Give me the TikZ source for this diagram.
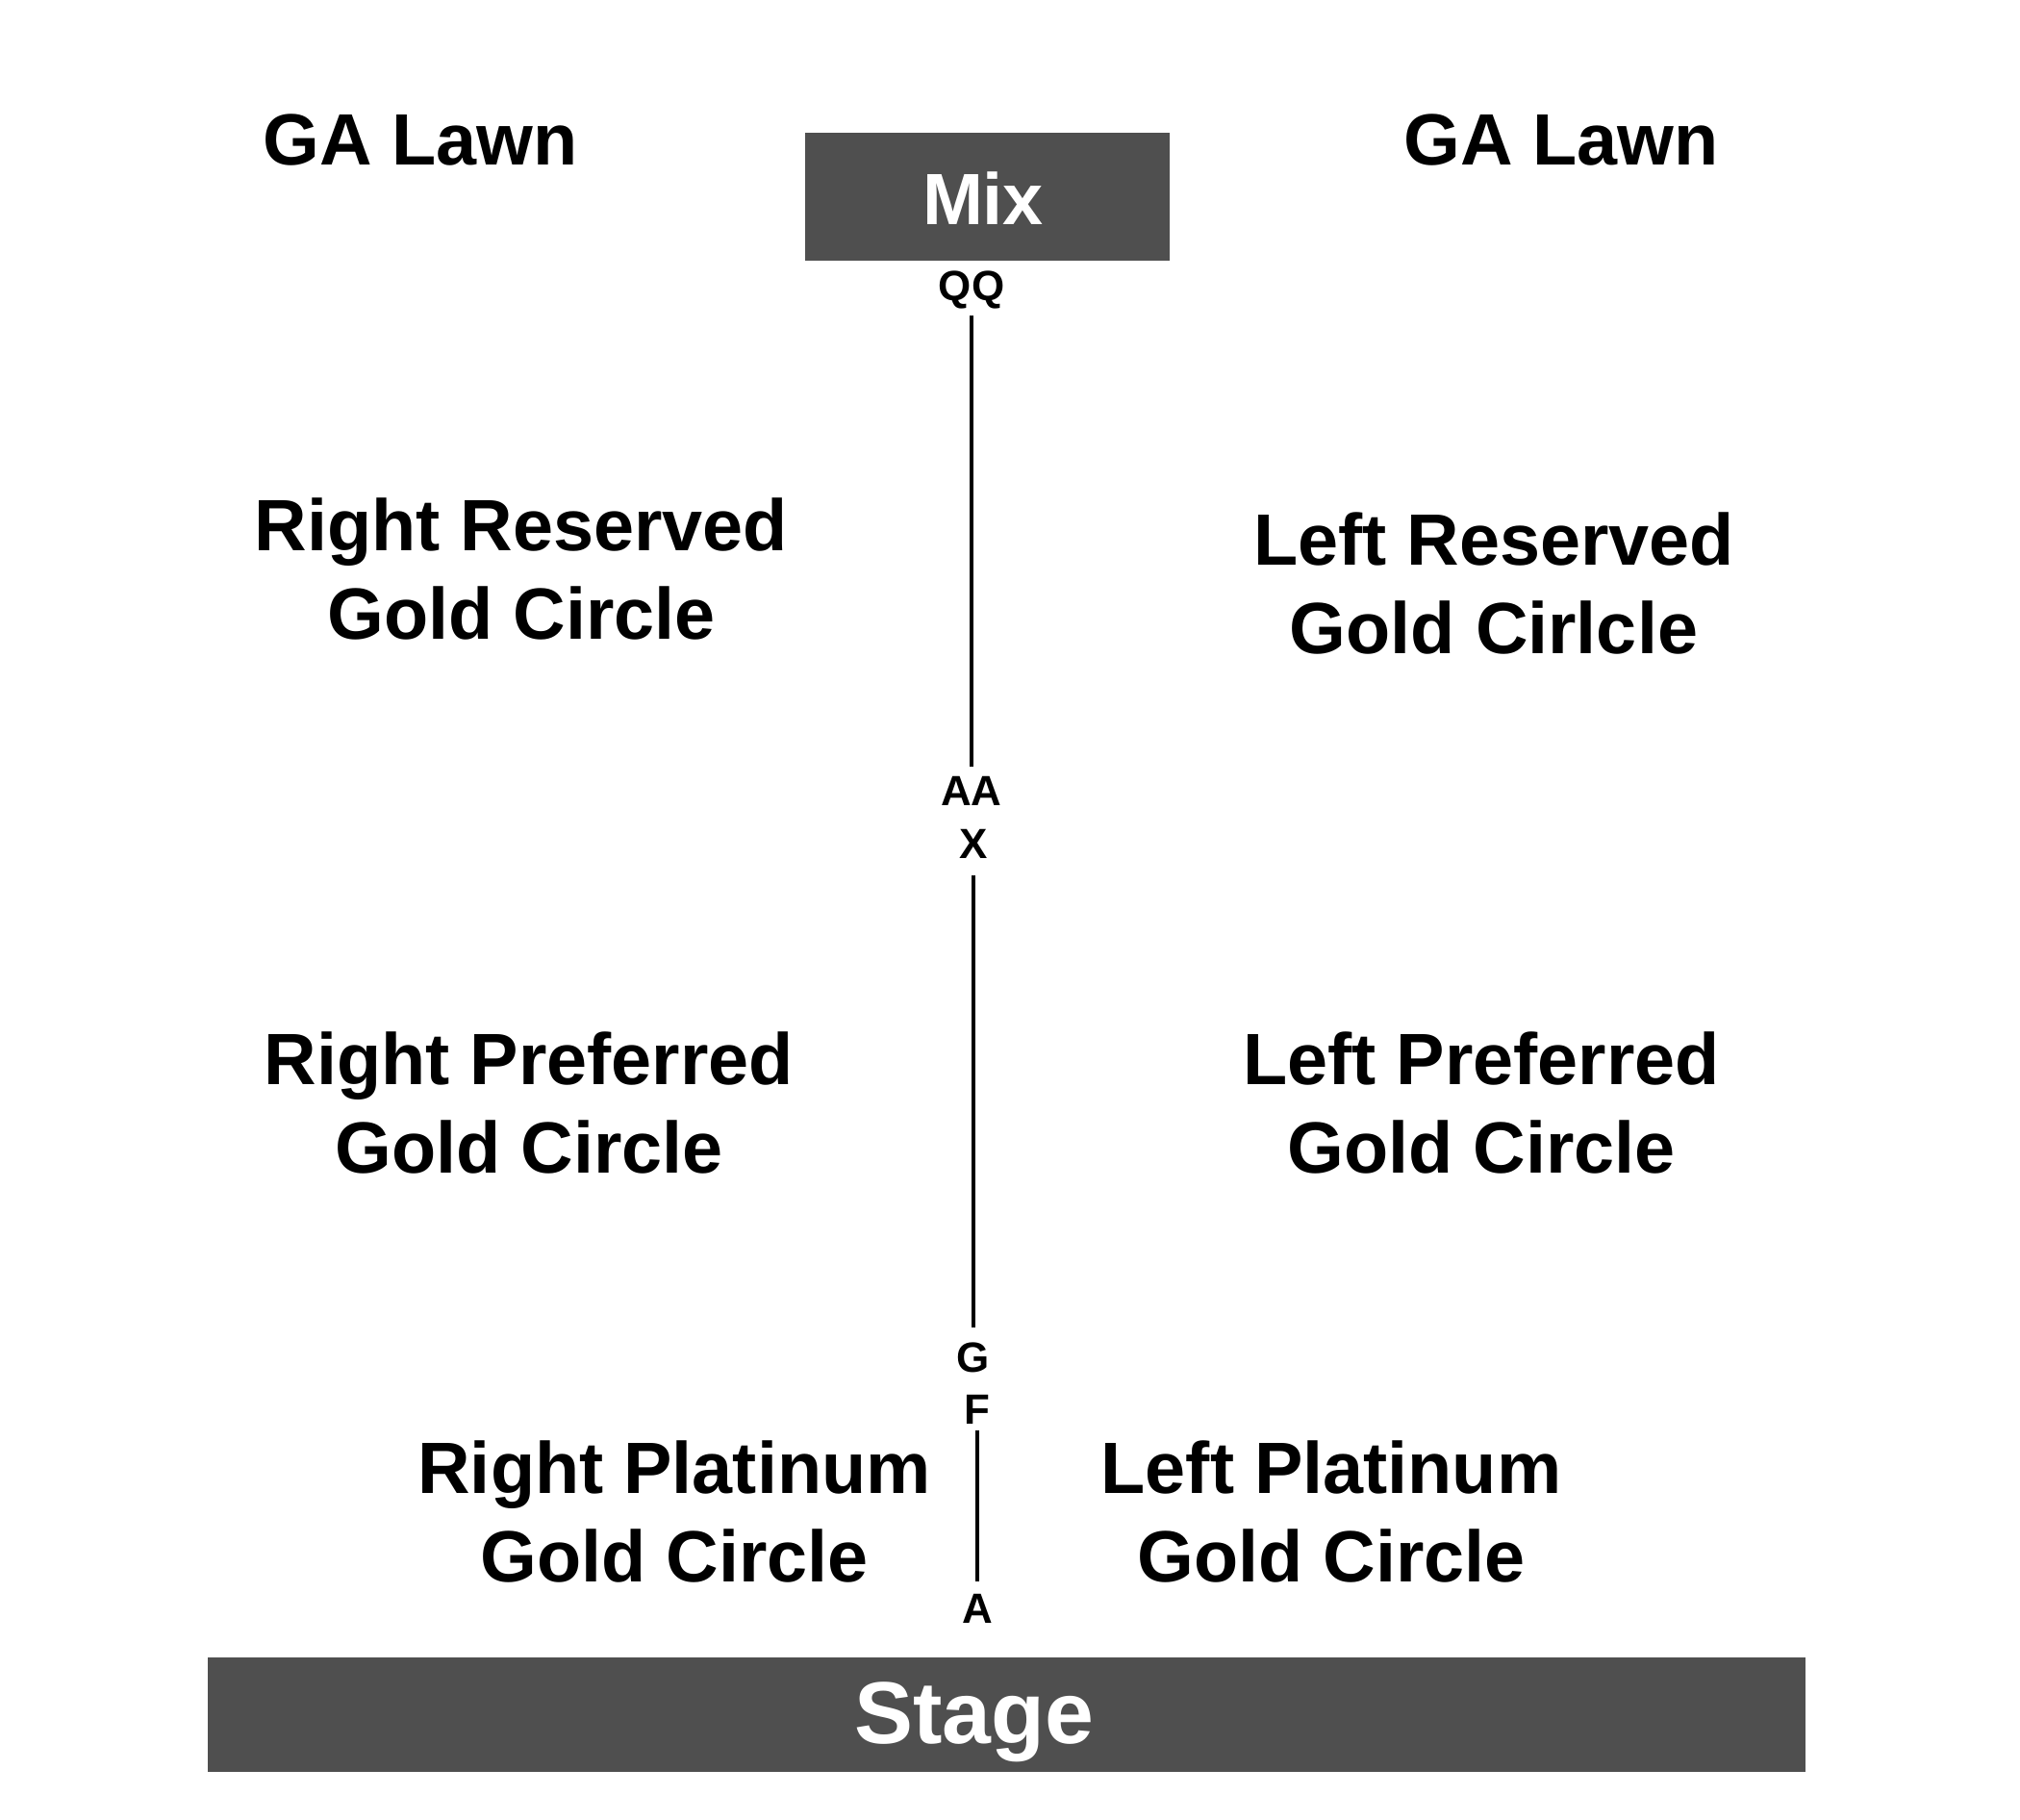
\documentclass[tikz,border=0pt]{standalone}
\usepackage{fontspec}
\setmainfont{Liberation Sans}
\usepackage{tikz}
\usetikzlibrary{positioning}
\definecolor{blockgray}{HTML}{4F4F4F}

\begin{document}
\begin{tikzpicture}[
        zone/.style={font=\fontsize{21.5}{26.2}\selectfont\bfseries, align=center, anchor=base, inner sep=0},
        rowlbl/.style={font=\fontsize{12.5}{14}\selectfont\bfseries, anchor=base, inner sep=0},
        blockbox/.style={fill=blockgray, inner sep=0},
        blocktext/.style={text=white, anchor=base, inner sep=0},
        aisle/.style={line width=0.9pt}]
        \useasboundingbox (0,0) rectangle (21,18.92);

        \node[blockbox, minimum width=3.79cm, minimum height=1.33cm] (mixbox) at (10.265,16.875) {};
        \node[blocktext, font=\fontsize{21.5}{26}\selectfont\bfseries] (mix) at (10.22,16.58) {Mix};
        \node[blockbox, minimum width=16.61cm, minimum height=1.19cm] (stagebox) at (10.465,1.095) {};
        \node[blocktext, font=\fontsize{26}{30}\selectfont\bfseries] (stage) at (10.13,0.79) {Stage};

        \node[zone] (lawnR) at (4.37,17.20) {GA Lawn};
        \node[zone] (lawnL) at (16.23,17.20) {GA Lawn};
        \node[zone] (resR) at (5.42,12.27) {Right Reserved\\Gold Circle};
        \node[zone] (resL) at (15.53,12.12) {Left Reserved\\Gold Cirlcle};
        \node[zone] (prefR) at (5.50,6.72) {Right Preferred\\Gold Circle};
        \node[zone] (prefL) at (15.40,6.72) {Left Preferred\\Gold Circle};
        \node[zone] (platR) at (7.01,2.47) {Right Platinum\\Gold Circle};
        \node[zone] (platL) at (13.84,2.47) {Left Platinum\\Gold Circle};

        \node[rowlbl] (qq) at (10.10,15.79) {QQ};
        \node[rowlbl] (aa) at (10.10,10.54) {AA};
        \node[rowlbl] (x) at (10.12,9.99) {X};
        \node[rowlbl] (g) at (10.12,4.65) {G};
        \node[rowlbl] (f) at (10.16,4.11) {F};
        \node[rowlbl] (a) at (10.16,2.04) {A};

        \draw[aisle, shorten <=0.15cm, shorten >=0.41cm] (qq.base) -- (aa.base);
        \draw[aisle, shorten <=0.17cm, shorten >=0.47cm] (x.base) -- (g.base);
        \draw[aisle, shorten <=0.06cm, shorten >=0.44cm] (f.base) -- (a.base);
    \end{tikzpicture}
\end{document}
